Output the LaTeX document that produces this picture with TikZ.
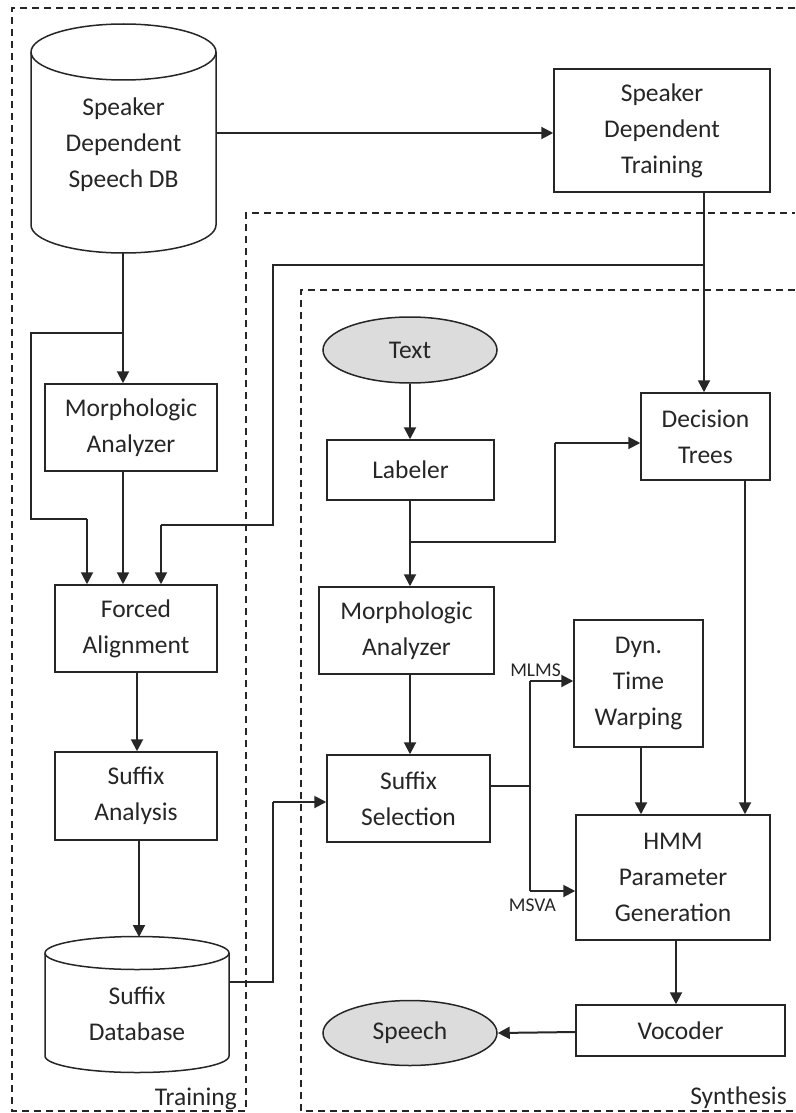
\documentclass[tikz,border=0pt]{standalone}
\usepackage{fontspec}
\setmainfont{Carlito}
\usetikzlibrary{arrows.meta,shapes.geometric}
\definecolor{ink}{HTML}{262626}
\definecolor{fillg}{HTML}{DCDCDC}
\newcommand\dbcyl[5]{%
  \pgfmathsetmacro\cxm{(#1+#2)/2}%
  \pgfmathsetmacro\krx{0.5523*(#2-#1)/2}%
  \pgfmathsetmacro\kry{0.5523*#5}%
  \draw[boxline, fill=white] (#1,#3) -- (#1,#4) .. controls (#1,#4+\kry) and (\cxm-\krx,#4+#5) .. (\cxm,#4+#5) .. controls (\cxm+\krx,#4+#5) and (#2,#4+\kry) .. (#2,#4) -- (#2,#3) .. controls (#2,#3-\kry) and (\cxm+\krx,#3-#5) .. (\cxm,#3-#5) .. controls (\cxm-\krx,#3-#5) and (#1,#3-\kry) .. (#1,#3) -- cycle;
  \draw[boxline] (#1,#3) .. controls (#1,#3+\kry) and (\cxm-\krx,#3+#5) .. (\cxm,#3+#5) .. controls (\cxm+\krx,#3+#5) and (#2,#3+\kry) .. (#2,#3);
}
\begin{document}
\begin{tikzpicture}[x=1pt,y=-1pt,
  every node/.style={text=ink, font=\fontsize{25.5}{36}\selectfont},
  boxline/.style={draw=ink, line width=1.5pt},
  box/.style={draw=ink, line width=1.5pt, fill=white, align=center, inner sep=0pt},
  oval/.style={ellipse, draw=ink, line width=1.5pt, fill=fillg, inner sep=0pt},
  txt/.style={align=center, inner sep=0pt},
  small/.style={font=\fontsize{19.5}{20}\selectfont, inner sep=0pt},
  arr/.style={draw=ink, line width=2pt, -{Triangle[length=12pt,width=12pt]}},
  wire/.style={draw=ink, line width=1.6pt},
  region/.style={draw=ink, line width=1.5pt, dash pattern=on 7pt off 5pt}
]
\useasboundingbox (0,0) rectangle (795,1113);

% regions
\draw[region] (795,8) -- (12,8) -- (12,1111) -- (246,1111) -- (246,213) -- (795,213);
\draw[region] (795,290) -- (301,290) -- (301,1111) -- (795,1111);
\node[anchor=base east, inner sep=0pt] (trl) at (237,1105) {Training};
\node[anchor=base east, inner sep=0pt] (syl) at (787,1104) {Synthesis};

% cylinders
\dbcyl{31}{216}{52}{225}{28}
\node[txt] (db1) at (123.5,145) {Speaker\\Dependent\\Speech DB};
\coordinate (db1r) at (216,133);
\coordinate (db1b) at (123,253);

\dbcyl{45}{229}{953}{1056}{16.5}
\node[txt] (db2) at (137,1014) {Suffix\\Database};
\coordinate (db2r) at (229,982);
\coordinate (db2t) at (139,937);

% training boxes
\node[box, minimum width=216, minimum height=123] (sdt) at (662,130.5) {Speaker\\Dependent\\Training};
\node[box, minimum width=172, minimum height=87] (ma1) at (131,427.5) {Morphologic\\Analyzer};
\node[box, minimum width=162, minimum height=87] (fa) at (136,628.5) {Forced\\Alignment};
\node[box, minimum width=162, minimum height=88] (sa) at (136,796) {Suffix\\Analysis};

% synthesis nodes
\node[oval, minimum width=174, minimum height=66] (txtin) at (410,350) {Text};
\node[box, minimum width=167, minimum height=60] (lab) at (410.5,470) {Labeler};
\node[box, minimum width=129, minimum height=87] (dt) at (705.5,436.5) {Decision\\Trees};
\node[box, minimum width=175, minimum height=87] (ma2) at (406.5,630.5) {Morphologic\\Analyzer};
\node[box, minimum width=163, minimum height=87] (ss) at (408.5,798.5) {Suffix\\Selection};
\node[box, minimum width=129, minimum height=127] (dtw) at (638.5,683.5) {Dyn.\\Time\\Warping};
\node[box, minimum width=194, minimum height=125] (hmm) at (673,877.5) {HMM\\Parameter\\Generation};
\node[box, minimum width=209, minimum height=51] (voc) at (680.5,1030.5) {Vocoder};
\node[oval, minimum width=174, minimum height=65] (sp) at (410,1033) {Speech};

% training connectors
\draw[arr] (db1r) -- (sdt.west |- db1r);
\draw[arr] (db1b) -- (db1b |- ma1.north);
\coordinate (b1) at (123,333);
\draw[wire] (b1) -- (31,333) -- (31,519) -- (87,519);
\draw[arr] (87,519) -- (87,0 |- fa.north);
\coordinate (ma1b) at (123,0 |- ma1.south);
\draw[arr] (ma1b) -- (ma1b |- fa.north);
\coordinate (sdtb) at (704,0 |- sdt.south);
\draw[arr] (sdtb) -- (sdtb |- dt.north);
\coordinate (b2) at (704,265);
\draw[wire] (b2) -- (273,265) -- (273,525) -- (161,525);
\draw[arr] (161,525) -- (161,0 |- fa.north);
\coordinate (fab) at (137,0 |- fa.south);
\draw[arr] (fab) -- (fab |- sa.north);
\coordinate (sab) at (139,0 |- sa.south);
\draw[arr] (sab) -- (db2t);
\draw[wire] (db2r) -- (273,982) -- (273,802);
\draw[arr] (273,802) -- (ss.west |- 0,802);

% synthesis connectors
\draw[arr] (txtin.south) -- (txtin.south |- lab.north);
\coordinate (labb) at (410,0 |- lab.south);
\draw[arr] (labb) -- (labb |- ma2.north);
\coordinate (b3) at (410,542);
\draw[wire] (b3) -- (555,542) -- (555,443);
\draw[arr] (555,443) -- (dt.west |- 0,443);
\coordinate (ma2b) at (410,0 |- ma2.south);
\draw[arr] (ma2b) -- (ma2b |- ss.north);
\draw[wire] (ss.east |- 0,786) -- (530,786);
\draw[wire] (530,681) -- (530,891);
\draw[arr] (530,681) -- (dtw.west |- 0,681);
\draw[arr] (530,891) -- (hmm.west |- 0,891);
\node[small, anchor=base east] (mlms) at (561,676) {MLMS};
\node[small, anchor=base east] (msva) at (556,911) {MSVA};
\coordinate (dtwb) at (641,0 |- dtw.south);
\draw[arr] (dtwb) -- (dtwb |- hmm.north);
\coordinate (dtb) at (745,0 |- dt.south);
\draw[arr] (dtb) -- (dtb |- hmm.north);
\coordinate (hmmb) at (676,0 |- hmm.south);
\draw[arr] (hmmb) -- (hmmb |- voc.north);
\draw[arr] (voc.west |- 0,1032) -- (sp.east);
\end{tikzpicture}
\end{document}
